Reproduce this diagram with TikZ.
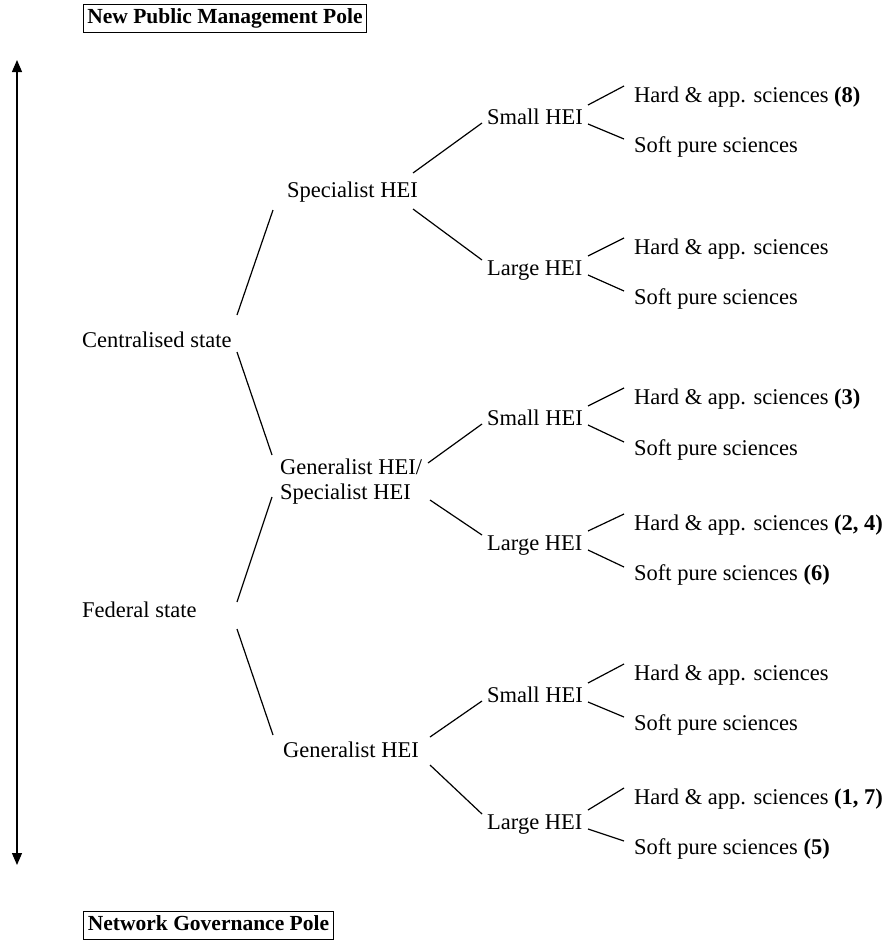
\documentclass[tikz,border=0pt]{standalone}
\usepackage{fontspec}
\setmainfont{Liberation Serif}
\usetikzlibrary{calc,arrows.meta}
\begin{document}
\begin{tikzpicture}[x=1pt,y=-1pt,
  lbl/.style={font=\fontsize{22.5}{25}\selectfont, inner sep=0pt, text height=15pt, text depth=0pt, anchor=west},
  twoline/.style={font=\fontsize{22.5}{25}\selectfont, inner sep=0pt, align=left, anchor=west},
  pole/.style={draw, line width=1pt, font=\fontsize{21.5}{25}\selectfont\bfseries, inner xsep=4pt, inner ysep=4.5pt, text height=15pt, text depth=4pt},
  conn/.style={line width=1.2pt},
  tip/.style={Triangle[length=12pt,width=10pt]}
]
\useasboundingbox (0,0) rectangle (893,940);

% poles
\node[pole] (npm) at (225,18) {New Public Management Pole};
\node[pole] (ngp) at (208.5,925) {Network Governance Pole};
\coordinate (atop) at (17,60);
\coordinate (abot) at (17,865);
\draw[conn, {Triangle[length=12pt,width=10pt]}-{Triangle[length=12pt,width=10pt]}] (atop) -- (abot);

% level 1
\node[lbl] (cent) at (82,340) {Centralised state};
\node[lbl] (fed) at (82,610) {Federal state};

% level 2
\node[lbl] (spec) at (287,190) {Specialist HEI};
\node[twoline] (gs) at (280,481.5) {Generalist HEI/\\Specialist HEI};
\node[lbl] (gen) at (283,750) {Generalist HEI};

% level 3
\node[lbl] (s1) at (487,117) {Small HEI};
\node[lbl] (l1) at (487,268) {Large HEI};
\node[lbl] (s2) at (487,418) {Small HEI};
\node[lbl] (l2) at (487,543) {Large HEI};
\node[lbl] (s3) at (487,695) {Small HEI};
\node[lbl] (l3) at (487,822) {Large HEI};

% leaves
\node[lbl] (h1) at (634,95) {Hard \& app. sciences \textbf{(8)}};
\node[lbl] (p1) at (634,145) {Soft pure sciences};
\node[lbl] (h2) at (634,247) {Hard \& app. sciences};
\node[lbl] (p2) at (634,297) {Soft pure sciences};
\node[lbl] (h3) at (634,397) {Hard \& app. sciences \textbf{(3)}};
\node[lbl] (p3) at (634,448) {Soft pure sciences};
\node[lbl] (h4) at (634,523) {Hard \& app. sciences \textbf{(2, 4)}};
\node[lbl] (p4) at (634,573) {Soft pure sciences \textbf{(6)}};
\node[lbl] (h5) at (634,673) {Hard \& app. sciences};
\node[lbl] (p5) at (634,723) {Soft pure sciences};
\node[lbl] (h6) at (634,797) {Hard \& app. sciences \textbf{(1, 7)}};
\node[lbl] (p6) at (634,847) {Soft pure sciences \textbf{(5)}};

% level 1 -> level 2
\draw[conn] ($(cent.west)+(155,-25)$) -- ($(spec.west)+(-14,20)$);
\draw[conn] ($(cent.west)+(155,12)$) -- ($(gs.west)+(-8,-26.5)$);
\draw[conn] ($(fed.west)+(155,-8)$) -- ($(gs.west)+(-8,15.5)$);
\draw[conn] ($(fed.west)+(155,19)$) -- ($(gen.west)+(-10,-15)$);

% level 2 -> level 3
\draw[conn] ($(spec.west)+(126,-17)$) -- ($(s1.west)+(-5,6)$);
\draw[conn] ($(spec.west)+(126,19)$) -- ($(l1.west)+(-5,-8)$);
\draw[conn] ($(gs.west)+(148,-18.5)$) -- ($(s2.west)+(-5,6)$);
\draw[conn] ($(gs.west)+(150,18.5)$) -- ($(l2.west)+(-5,-8)$);
\draw[conn] ($(gen.west)+(147,-13)$) -- ($(s3.west)+(-5,6)$);
\draw[conn] ($(gen.west)+(147,15)$) -- ($(l3.west)+(-5,-8)$);

% level 3 -> leaves
\foreach \m/\h/\p in {s1/h1/p1, l1/h2/p2, s2/h3/p3, l2/h4/p4, s3/h5/p5, l3/h6/p6}{
  \draw[conn] ($(\m.west)+(101,-12)$) -- ($(\h.west)+(-10,-9)$);
  \draw[conn] ($(\m.west)+(101,7)$) -- ($(\p.west)+(-10,-6)$);
}
\end{tikzpicture}
\end{document}
